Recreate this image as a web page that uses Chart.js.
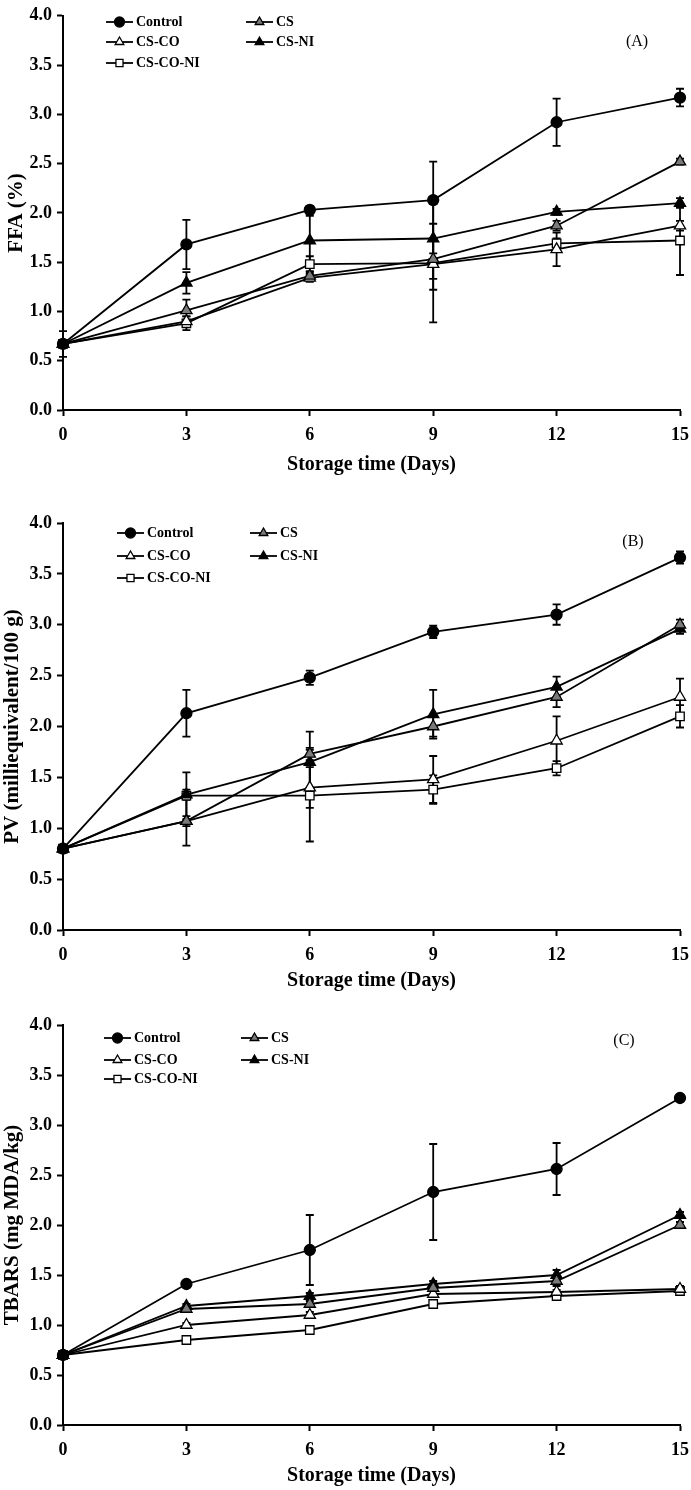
<!DOCTYPE html>
<html>
<head>
<meta charset="utf-8">
<script src="https://cdn.jsdelivr.net/npm/chart.js@4.4.1/dist/chart.umd.min.js"></script>
<style>
body { margin: 0; background: #fff; width: 691px; height: 1490px; position: relative; overflow: hidden; }
canvas { position: absolute; left: 0; }
</style>
</head>
<body>
<canvas id="chartA" width="691" height="490" style="top:0px"></canvas>
<canvas id="chartB" width="691" height="510" style="top:490px"></canvas>
<canvas id="chartC" width="691" height="490" style="top:1000px"></canvas>
<script>
// Storage days (x axis) and series names
var days = [0, 3, 6, 9, 12, 15];
var seriesNames = ['Control', 'CS', 'CS-CO', 'CS-NI', 'CS-CO-NI'];

// (A) FFA (%)
var ffaControl = [0.67, 1.68, 2.03, 2.13, 2.92, 3.17];
var ffaCS      = [0.67, 1.01, 1.36, 1.53, 1.87, 2.52];
var ffaCSCO    = [0.67, 0.90, 1.34, 1.48, 1.63, 1.87];
var ffaCSNI    = [0.67, 1.29, 1.72, 1.74, 2.01, 2.10];
var ffaCSCONI  = [0.67, 0.88, 1.48, 1.49, 1.69, 1.72];
var ffaControlErr = [0.13, 0.25, 0.04, 0.39, 0.24, 0.09];
var ffaCSErr      = [0, 0.11, 0.05, 0.20, 0.05, 0.03];
var ffaCSCOErr    = [0, 0.05, 0.04, 0.26, 0.17, 0.05];
var ffaCSNIErr    = [0, 0.11, 0.25, 0.15, 0.03, 0.05];
var ffaCSCONIErr  = [0, 0.07, 0.08, 0.60, 0.05, 0.35];

// (B) PV (milliequivalent/100 g)
var pvControl = [0.80, 2.13, 2.48, 2.93, 3.10, 3.66];
var pvCS      = [0.80, 1.07, 1.73, 2.00, 2.29, 3.00];
var pvCSCO    = [0.80, 1.07, 1.40, 1.48, 1.86, 2.29];
var pvCSNI    = [0.80, 1.33, 1.65, 2.12, 2.39, 2.96];
var pvCSCONI  = [0.80, 1.32, 1.32, 1.38, 1.59, 2.10];
var pvControlErr = [0, 0.23, 0.07, 0.06, 0.10, 0.06];
var pvCSErr      = [0, 0.05, 0.06, 0.10, 0.10, 0.05];
var pvCSCOErr    = [0, 0.24, 0.20, 0.23, 0.24, 0.18];
var pvCSNIErr    = [0, 0.05, 0.30, 0.24, 0.10, 0.05];
var pvCSCONIErr  = [0, 0.23, 0.45, 0.14, 0.07, 0.11];

// (C) TBARS (mg MDA/kg)
var tbControl = [0.70, 1.41, 1.75, 2.33, 2.56, 3.27];
var tbCS      = [0.70, 1.16, 1.21, 1.37, 1.44, 2.00];
var tbCSCO    = [0.70, 1.00, 1.10, 1.31, 1.33, 1.36];
var tbCSNI    = [0.70, 1.19, 1.29, 1.41, 1.50, 2.10];
var tbCSCONI  = [0.70, 0.85, 0.95, 1.21, 1.29, 1.34];
var tbControlErr = [0, 0.02, 0.35, 0.48, 0.26, 0.02];
var tbCSErr      = [0, 0.02, 0.03, 0.03, 0.05, 0.03];
var tbCSCOErr    = [0, 0.02, 0.03, 0.03, 0.02, 0.03];
var tbCSNIErr    = [0, 0.02, 0.03, 0.03, 0.05, 0.03];
var tbCSCONIErr  = [0, 0.02, 0.02, 0.03, 0.02, 0.02];

// marker look of each series
var markerStyles = [
    { pointStyle: 'circle',   fill: '#000000', radius: 5.5 },
    { pointStyle: 'triangle', fill: '#7a7a7a', radius: 6.5 },
    { pointStyle: 'triangle', fill: '#ffffff', radius: 6.5 },
    { pointStyle: 'triangle', fill: '#000000', radius: 6.5 },
    { pointStyle: 'rect',     fill: '#ffffff', radius: 6 }
];

var serif = '"Liberation Serif", "Times New Roman", serif';

function toPoints(values) {
    return values.map(function(v, i) { return { x: days[i], y: v }; });
}

// error bars, drawn under the lines and markers
var errorBarPlugin = {
    id: 'errorBars',
    beforeDatasetsDraw: function(chart) {
        var ctx = chart.ctx;
        var yScale = chart.scales.y;
        ctx.save();
        ctx.strokeStyle = '#000';
        ctx.lineWidth = 1.8;
        chart.data.datasets.forEach(function(ds, i) {
            var meta = chart.getDatasetMeta(i);
            ds.errors.forEach(function(e, j) {
                if (!e) return;
                var x = meta.data[j].x;
                var top = yScale.getPixelForValue(ds.data[j].y + e);
                var bot = yScale.getPixelForValue(ds.data[j].y - e);
                ctx.beginPath();
                ctx.moveTo(x, top); ctx.lineTo(x, bot);
                ctx.moveTo(x - 4, top); ctx.lineTo(x + 4, top);
                ctx.moveTo(x - 4, bot); ctx.lineTo(x + 4, bot);
                ctx.stroke();
            });
        });
        ctx.restore();
    }
};

// legend in two columns inside the plot plus the panel letter
var panelLegendPlugin = {
    id: 'panelLegend',
    afterDraw: function(chart, args, opts) {
        var ctx = chart.ctx;
        ctx.save();
        ctx.font = 'bold 14px ' + serif;
        ctx.textBaseline = 'middle';
        ctx.fillStyle = '#000';
        chart.data.datasets.forEach(function(ds, i) {
            var col = i === 4 ? 0 : i % 2;
            var row = Math.floor(i / 2);
            var x0 = opts.cols[col];
            var y = opts.rows[row];
            ctx.strokeStyle = '#000';
            ctx.lineWidth = 1.8;
            ctx.beginPath();
            ctx.moveTo(x0, y); ctx.lineTo(x0 + 27, y);
            ctx.stroke();
            ctx.fillStyle = ds.pointBackgroundColor;
            ctx.strokeStyle = '#000';
            ctx.lineWidth = 1.3;
            Chart.helpers.drawPoint(ctx, { pointStyle: ds.pointStyle, radius: 5, rotation: 0, borderWidth: 1.3 }, x0 + 13.5, y);
            ctx.fillStyle = '#000';
            ctx.fillText(ds.label, x0 + 30, y);
        });
        ctx.font = '16px ' + serif;
        ctx.textAlign = 'center';
        ctx.fillText(opts.tag, opts.tagX, opts.tagY);
        ctx.restore();
    }
};

function makeChart(id, yTitle, series, errors, lay) {
    var datasets = series.map(function(values, i) {
        var st = markerStyles[i];
        return {
            label: seriesNames[i],
            data: toPoints(values),
            errors: errors[i],
            clip: false,
            borderColor: '#000',
            borderWidth: 1.8,
            pointStyle: st.pointStyle,
            pointRadius: st.radius,
            pointBackgroundColor: st.fill,
            pointBorderColor: '#000',
            pointBorderWidth: 1.3,
            tension: 0
        };
    });

    return new Chart(document.getElementById(id), {
        type: 'line',
        data: { datasets: datasets },
        plugins: [errorBarPlugin, panelLegendPlugin],
        options: {
            responsive: false,
            animation: false,
            devicePixelRatio: 1,
            layout: { autoPadding: false, padding: { top: lay.padTop, bottom: lay.padBottom, left: 0, right: 11 } },
            plugins: {
                legend: { display: false },
                tooltip: { enabled: false },
                panelLegend: { cols: lay.cols, rows: lay.rows, tag: lay.tag, tagX: lay.tagX, tagY: lay.tagY }
            },
            scales: {
                x: {
                    type: 'linear',
                    min: 0, max: 15,
                    afterFit: function(s) {
                        s.height = lay.xHeight;
                        // let the layout padding decide the right edge
                        s.paddingLeft = 0;
                        s.paddingRight = 0;
                    },
                    ticks: { stepSize: 3, color: '#000', padding: 9, font: { family: serif, size: 18, weight: 'bold' } },
                    grid: { drawOnChartArea: false, drawTicks: true, tickLength: 6, tickColor: '#000', tickWidth: 2 },
                    border: { display: true, color: '#000', width: 2 },
                    title: { display: true, text: 'Storage time (Days)', color: '#000', padding: 0,
                             font: { family: serif, size: 20, weight: 'bold' } }
                },
                y: {
                    min: 0, max: 4,
                    afterFit: function(s) { s.width = 63; },
                    ticks: { stepSize: 0.5, color: '#000', padding: 5,
                             callback: function(v) { return v.toFixed(1); },
                             font: { family: serif, size: 18, weight: 'bold' } },
                    grid: { drawOnChartArea: false, drawTicks: true, tickLength: 6, tickColor: '#000', tickWidth: 2 },
                    border: { display: true, color: '#000', width: 2 },
                    title: { display: true, text: yTitle, color: '#000', padding: { top: lay.yTitlePad, bottom: 0 },
                             font: { family: serif, size: 21, weight: 'bold' } }
                }
            }
        }
    });
}

makeChart('chartA', 'FFA (%)',
    [ffaControl, ffaCS, ffaCSCO, ffaCSNI, ffaCSCONI],
    [ffaControlErr, ffaCSErr, ffaCSCOErr, ffaCSNIErr, ffaCSCONIErr],
    { padTop: 10, padBottom: 13, xHeight: 67, yTitlePad: 4,
      cols: [106, 246], rows: [22, 42, 63], tag: '(A)', tagX: 637, tagY: 42 });

makeChart('chartB', 'PV (milliequivalent/100 g)',
    [pvControl, pvCS, pvCSCO, pvCSNI, pvCSCONI],
    [pvControlErr, pvCSErr, pvCSCOErr, pvCSNIErr, pvCSCONIErr],
    { padTop: 33, padBottom: 7, xHeight: 63, yTitlePad: 0,
      cols: [117, 250], rows: [43, 66, 88], tag: '(B)', tagX: 633, tagY: 52 });

makeChart('chartC', 'TBARS (mg MDA/kg)',
    [tbControl, tbCS, tbCSCO, tbCSNI, tbCSCONI],
    [tbControlErr, tbCSErr, tbCSCOErr, tbCSNIErr, tbCSCONIErr],
    { padTop: 25, padBottom: 2, xHeight: 63, yTitlePad: 0,
      cols: [104, 241], rows: [38, 60, 79], tag: '(C)', tagX: 624, tagY: 41 });
</script>
</body>
</html>
